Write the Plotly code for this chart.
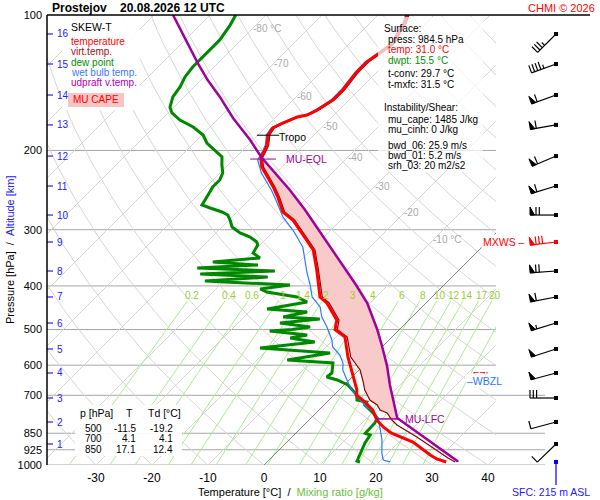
import numpy as np
import plotly.graph_objects as go

# ---------------------------------------------------------------- data
station = "Prostejov"
valid_time = "20.08.2026 12 UTC"

temp_p = [100.0, 104.2, 108.0, 115.4, 121.5, 127.2, 133.9, 146.8, 154.5, 162.6, 166.8, 168.5,
          173.8, 178.3, 184.8, 194.5, 199.5, 207.9, 217.7, 230.3, 241.1, 253.8, 274.0, 285.5,
          308.2, 332.8, 368.7, 423.3, 436.5, 476.2, 500.0, 519.4, 575.4, 624.5, 681.3, 700.0,
          724.4, 754.7, 794.3, 823.3, 850.0, 889.0, 950.1, 969.7, 984.5]
temp_t = [-54.8, -53.8, -53.4, -52.3, -52.9, -53.6, -53.6, -52.9, -52.9, -53.9, -54.8, -56.2,
          -57.7, -58.6, -58.2, -56.6, -56.1, -55.4, -53.6, -50.5, -48.0, -45.4, -41.8, -38.6,
          -34.1, -29.6, -25.4, -20.0, -17.7, -12.9, -11.5, -8.4, -4.3, -0.7, 3.2, 4.1,
          6.8, 9.6, 12.1, 14.5, 17.1, 22.5, 27.9, 29.8, 32.0]

virt_p = [100.0, 104.2, 108.0, 115.4, 121.5, 127.2, 133.9, 146.8, 154.5, 162.6, 166.8, 168.5,
          173.8, 178.3, 184.8, 194.5, 199.5, 207.9, 217.7, 230.3, 241.1, 253.8, 274.0, 285.5,
          308.2, 332.8, 368.7, 423.3, 436.5, 476.2, 500.0, 519.4, 575.4, 615.0, 654.0, 681.3,
          717.1, 735.7, 754.7, 766.4, 794.3, 814.9, 866.5, 916.7, 964.8, 984.5]
virt_t = [-54.5, -53.5, -53.1, -52.0, -52.6, -53.3, -53.3, -52.6, -52.6, -53.6, -54.5, -55.9,
          -57.4, -58.3, -57.9, -56.3, -55.8, -55.1, -53.3, -50.2, -47.7, -45.1, -41.5, -38.3,
          -33.8, -29.3, -25.1, -19.6, -17.3, -12.5, -11.1, -8.0, -3.8, 0.2, 2.9, 4.6,
          7.3, 9.5, 10.9, 12.7, 14.8, 16.6, 22.3, 27.1, 31.6, 33.6]

dew_p = [100.0, 105.3, 113.6, 117.8, 124.0, 130.5, 137.3, 144.5, 152.1, 160.2, 165.1, 171.2,
         177.4, 184.8, 192.5, 201.6, 206.8, 215.4, 224.5, 232.6, 241.1, 251.2, 264.4, 268.5,
         274.0, 278.3, 285.5, 295.9, 305.1, 311.4, 319.5, 324.5, 338.0, 346.7, 353.9, 359.4,
         365.0, 370.6, 376.3, 382.2, 390.1, 398.1, 406.3, 412.6, 423.3, 434.3, 450.1, 457.1,
         468.9, 473.8, 483.6, 493.6, 500.0, 503.8, 514.2, 522.1, 532.9, 549.5, 563.8, 584.3,
         593.4, 624.5, 637.5, 647.3, 664.1, 691.8, 700.0, 717.1, 724.4, 735.7, 766.4, 786.2,
         806.6, 850.0, 857.7, 893.5, 926.1, 959.9, 979.7, 984.5]
dew_t = [-85.4, -84.6, -83.8, -83.8, -83.8, -83.8, -83.4, -82.5, -82.0, -80.7, -79.3, -76.6,
         -73.0, -69.8, -67.7, -64.3, -62.5, -61.1, -59.5, -58.8, -58.8, -58.2, -57.5, -55.5,
         -52.7, -51.1, -49.8, -48.2, -45.7, -43.2, -41.1, -40.4, -39.8, -37.7, -45.4, -36.8,
         -47.1, -32.7, -45.5, -32.9, -43.4, -27.5, -32.1, -30.4, -24.1, -21.4, -27.3, -19.6,
         -23.0, -16.1, -22.5, -16.4, -19.2, -22.9, -15.5, -18.0, -12.9, -21.6, -8.2, -14.6,
         -5.9, -4.3, -4.5, -2.1, 0.7, 3.4, 4.1, 5.0, 7.1, 7.3, 10.2, 11.8,
         12.3, 12.4, 13.6, 14.1, 14.8, 15.4, 15.9, 16.6]

wet_p = [100.0, 104.2, 108.0, 115.4, 121.5, 127.2, 133.9, 146.8, 154.5, 162.6, 166.8, 168.5,
         173.8, 178.3, 184.8, 194.5, 199.5, 210.0, 224.5, 232.6, 244.8, 257.7, 271.2, 281.1,
         300.5, 327.8, 350.3, 374.4, 398.1, 423.3, 445.5, 468.9, 493.6, 527.5, 546.7, 569.6,
         593.4, 615.0, 657.3, 681.3, 706.2, 743.3, 766.4, 786.2, 827.5, 879.9, 940.5, 974.7, 984.5]
wet_t = [-55.1, -54.1, -53.7, -52.6, -53.2, -53.9, -53.9, -53.2, -53.2, -54.2, -55.1, -56.5,
         -58.0, -58.9, -58.5, -56.9, -56.4, -55.6, -52.6, -50.6, -47.8, -45.2, -42.7, -40.9,
         -36.8, -32.0, -29.3, -26.6, -23.9, -21.4, -18.2, -16.1, -13.4, -10.2, -8.8, -6.1,
         -4.1, -2.9, 0.4, 2.3, 4.5, 8.0, 10.5, 12.0, 14.1, 16.6, 18.9, 20.4, 22.0]

parcel_p = [100.0, 115.4, 127.9, 139.5, 152.1, 169.4, 189.6, 206.8, 221.0, 244.8, 271.2, 298.9,
            345.0, 398.1, 436.5, 498.6, 541.2, 602.6, 664.1, 735.7, 786.2, 979.7, 984.5]
parcel_t = [-96.6, -89.1, -83.6, -78.8, -73.6, -67.5, -60.5, -55.5, -51.1, -44.5, -38.2, -32.5,
            -24.1, -15.7, -10.5, -4.1, -0.4, 4.3, 8.2, 12.5, 15.4, 33.8, 34.0]

# wind at altitude levels (km ASL), knots
km_levels = [1, 2, 3, 4, 5, 6, 7, 8, 9, 10, 11, 12, 13, 14, 15, 16]
km_p = [898.1, 802.5, 709.8, 624.5, 552.4, 483.6, 423.3, 370.6, 319.5, 278.3, 239.9, 205.8,
        175.5, 150.6, 128.5, 110.2]
wind_dir = [226, 255, 270, 255, 252, 253, 259, 266, 263, 270, 253, 247, 260, 250, 250, 225]
wind_kt = [10, 10, 30, 50, 50, 55, 60, 70, 80, 70, 60, 60, 60, 60, 45, 35]

sfc_p = 984.5
sfc_elev_m = 215
tropo_p = 185.0
eql_p = 209.0
lfc_p = 790.0

table_p = [500, 700, 850]
table_t = [-11.5, 4.1, 17.1]
table_td = [-19.2, 4.1, 12.4]

surface_lines = [("press: 984.5 hPa", "black"), ("temp: 31.0 °C", "#ff0000"),
                 ("dwpt: 15.5 °C", "#009000")]
conv_lines = ["t-conv: 29.7 °C", "t-mxfc: 31.5 °C"]
instab_lines = ["mu_cape: 1485 J/kg", "mu_cinh: 0 J/kg"]
shear_lines = ["bwd_06: 25.9 m/s", "bwd_01: 5.2 m/s", "srh_03: 20 m2/s2"]

mix_ratios = [0.2, 0.4, 0.6, 1, 1.4, 2, 3, 4, 6, 8, 10, 12, 14, 17, 20, 25]
isobars = [200, 300, 400, 500, 600, 700, 850, 925, 1000]
pressure_ticks = [100, 200, 300, 400, 500, 600, 700, 850, 925, 1000]
temp_ticks = [-30, -20, -10, 0, 10, 20, 30, 40]
iso_label_t = [-80, -70, -60, -50, -40, -30, -20, -10]
iso_label_p = [106.9, 127.9, 151.4, 176.5, 206.8, 239.9, 275.4, 316.2]

# ---------------------------------------------------------------- geometry
W, H = 600, 500
X_LEFT, X_RIGHT = 47, 496
Y_TOP, Y_BOT = 15, 465
PX_PER_C = 5.6
X_ZERO = 264
PX_PER_DEC = Y_BOT - Y_TOP
SKEW = PX_PER_DEC / PX_PER_C


def sk(T, p):
    return np.asarray(T, dtype=float) + SKEW * (3 - np.log10(np.asarray(p, dtype=float)))


def fx(px):
    return px / W


def fy(py):
    return 1 - py / H


def prof_at(P, T, p):
    P = np.asarray(P, float)
    T = np.asarray(T, float)
    o = np.argsort(P)
    return float(np.interp(np.log10(p), np.log10(P[o]), T[o]))


def cross_zero(P, T):
    P = np.asarray(P, float)
    T = np.asarray(T, float)
    for i in range(len(P) - 1, 0, -1):
        if T[i] >= 0 > T[i - 1]:
            f = T[i] / (T[i] - T[i - 1])
            return 10 ** (np.log10(P[i]) + f * (np.log10(P[i - 1]) - np.log10(P[i])))
    return None


FONT = "Liberation Sans, Arial, sans-serif"
fig = go.Figure()


def add_line(xs, ys, color, width, xaxis="x", **kw):
    fig.add_trace(go.Scatter(x=xs, y=ys, mode="lines", xaxis=xaxis, yaxis="y",
                             line=dict(color=color, width=width),
                             hoverinfo="skip", showlegend=False, **kw))


# isotherms
xs, ys = [], []
for T in range(-120, 50, 10):
    if T == 0:
        continue
    xs += [float(sk(T, 1000)), float(sk(T, 100)), None]
    ys += [3.0, 2.0, None]
add_line(xs, ys, "#d6d6d6", 1)

# dry adiabats
pp = np.logspace(3, 2, 60)
xs, ys = [], []
for th in range(-40, 210, 10):
    T = (th + 273.15) * (pp / 1000) ** 0.2857 - 273.15
    xs += list(sk(T, pp)) + [None]
    ys += list(np.log10(pp)) + [None]
add_line(xs, ys, "#d6d6d6", 1)

# mixing ratio lines
pm = np.logspace(3, np.log10(432), 25)
xs, ys = [], []
for w in mix_ratios:
    e = w * pm / (622 + w)
    a = np.log(e / 6.112)
    T = 243.5 * a / (17.67 - a)
    xs += list(sk(T, pm)) + [None]
    ys += list(np.log10(pm)) + [None]
add_line(xs, ys, "#a9ee8a", 1)

# 0 degC isotherm
add_line([float(sk(0, 1000)), float(sk(0, 100))], [3.0, 2.0], "#666666", 0.8)

# CAPE area
par_p = np.array(parcel_p)
par_t = np.array(parcel_t)
m = (par_p > eql_p) & (par_p < lfc_p)
cp = [eql_p] + list(par_p[m]) + [lfc_p]
ct = [prof_at(parcel_p, parcel_t, eql_p)] + list(par_t[m]) + [prof_at(parcel_p, parcel_t, lfc_p)]
vp = np.array(virt_p)
vt = np.array(virt_t)
m2 = (vp > eql_p) & (vp < lfc_p)
ep = [lfc_p] + list(vp[m2][::-1]) + [eql_p]
et = [prof_at(virt_p, virt_t, lfc_p)] + list(vt[m2][::-1]) + [prof_at(virt_p, virt_t, eql_p)]
poly_p = np.array(cp + ep)
poly_t = np.array(ct + et)
fig.add_trace(go.Scatter(x=sk(poly_t, poly_p), y=np.log10(poly_p), mode="lines", fill="toself",
                         fillcolor="#f8caca", line=dict(width=0, color="#f8caca"),
                         hoverinfo="skip", showlegend=False))

# profiles
add_line(sk(dew_t, dew_p), np.log10(dew_p), "#008800", 3)
add_line(sk(wet_t, wet_p), np.log10(wet_p), "#2a78ff", 1.2)
add_line(sk(virt_t, virt_p), np.log10(virt_p), "#8b0000", 1.2)
add_line(sk(temp_t, temp_p), np.log10(temp_p), "#ff0000", 3)
add_line(sk(parcel_t, parcel_p), np.log10(parcel_p), "#a000a0", 2.5)

# level markers
t_tropo = prof_at(temp_p, temp_t, tropo_p)
add_line([float(sk(t_tropo - 2, tropo_p)), float(sk(t_tropo + 2, tropo_p))],
         [np.log10(tropo_p)] * 2, "black", 1)
t_eql = prof_at(parcel_p, parcel_t, eql_p)
add_line([float(sk(t_eql - 2.3, eql_p)), float(sk(t_eql + 2.3, eql_p))],
         [np.log10(eql_p)] * 2, "#a000a0", 1)
t_lfc_env = prof_at(temp_p, temp_t, lfc_p)
t_lfc_par = prof_at(parcel_p, parcel_t, lfc_p)
add_line([float(sk(t_lfc_env, lfc_p)), float(sk(t_lfc_par, lfc_p))],
         [np.log10(lfc_p)] * 2, "#a000a0", 1.5)

# wind barbs (axis x2 in pixel units, shared pressure axis)
BX = 556.0


def barb(p, d, s, L=26.0, flen=8.0, gap=3.3, pw=4.5):
    y0 = np.log10(p)
    r = np.radians(d)
    sx, sy = np.sin(r), -np.cos(r)
    fx_, fy_ = -sy, sx

    def P(a, b):
        return (BX + a * sx + b * fx_, y0 + (a * sy + b * fy_) / PX_PER_DEC)

    lines = [P(0, 0), P(L, 0), None]
    polys = []
    s5 = int(round(s / 5.0)) * 5
    n50, rem = divmod(s5, 50)
    n10, rem = divmod(rem, 10)
    pos = L
    for _ in range(n50):
        polys += [P(pos, 0), P(pos, flen), P(pos - pw, 0), P(pos, 0), None]
        pos -= pw + 1.5
    for _ in range(n10):
        lines += [P(pos, 0), P(pos, flen), None]
        pos -= gap
    if rem >= 5:
        if pos == L:
            pos -= gap
        lines += [P(pos, 0), P(pos, flen / 2), None]
    return lines, polys


imax = int(np.argmax(wind_kt))
for i, (p, d, s) in enumerate(zip(km_p, wind_dir, wind_kt)):
    col = "#ff0000" if i == imax else "black"
    lines, polys = barb(p, d, s)
    add_line([q[0] if q else None for q in lines], [q[1] if q else None for q in lines],
             col, 1.2, xaxis="x2")
    if polys:
        fig.add_trace(go.Scatter(x=[q[0] if q else None for q in polys],
                                 y=[q[1] if q else None for q in polys],
                                 mode="lines", fill="toself", fillcolor=col, xaxis="x2", yaxis="y",
                                 line=dict(color=col, width=1), hoverinfo="skip", showlegend=False))
    fig.add_trace(go.Scatter(x=[BX], y=[np.log10(p)], mode="markers", xaxis="x2", yaxis="y",
                             marker=dict(symbol="square", size=4, color=col),
                             hoverinfo="skip", showlegend=False))
fig.add_trace(go.Scatter(x=[BX], y=[np.log10(sfc_p)], mode="markers", xaxis="x2", yaxis="y",
                         marker=dict(symbol="square", size=4, color="#0000ff"),
                         hoverinfo="skip", showlegend=False))

# ---------------------------------------------------------------- shapes
shapes = []
for p in isobars:
    shapes.append(dict(type="line", xref="paper", yref="y", x0=fx(X_LEFT),
                       x1=fx(545 if p >= 700 else X_RIGHT), y0=np.log10(p), y1=np.log10(p),
                       line=dict(color="#a6a6a6", width=1), layer="below"))
for p in km_p:
    shapes.append(dict(type="line", xref="paper", yref="y", x0=fx(47), x1=fx(53),
                       y0=np.log10(p), y1=np.log10(p), line=dict(color="#2020ff", width=1.2),
                       layer="above"))
# boxes
shapes.append(dict(type="rect", xref="paper", yref="paper", x0=fx(62), x1=fx(140), y0=fy(110),
                   y1=fy(16), fillcolor="rgba(255,255,255,0.92)", line=dict(width=0), layer="above"))
shapes.append(dict(type="rect", xref="paper", yref="paper", x0=fx(68), x1=fx(124), y0=fy(107),
                   y1=fy(93), fillcolor="#f9c4c4", line=dict(width=0), layer="above"))
shapes.append(dict(type="rect", xref="paper", yref="paper", x0=fx(378), x1=fx(483), y0=fy(172),
                   y1=fy(17), fillcolor="rgba(255,255,255,0.72)", line=dict(width=0), layer="above"))
shapes.append(dict(type="rect", xref="paper", yref="paper", x0=fx(75), x1=fx(182), y0=fy(456),
                   y1=fy(405), fillcolor="rgba(255,255,255,0.92)", line=dict(width=0), layer="above"))
# frame
shapes.append(dict(type="line", xref="paper", yref="paper", x0=fx(X_LEFT), x1=fx(X_LEFT),
                   y0=fy(Y_BOT), y1=fy(Y_TOP), line=dict(color="black", width=1.5), layer="above"))
shapes.append(dict(type="line", xref="paper", yref="paper", x0=fx(X_LEFT), x1=fx(590),
                   y0=fy(Y_TOP), y1=fy(Y_TOP), line=dict(color="black", width=1.5), layer="above"))
# surface elevation marker
shapes.append(dict(type="line", xref="x2", yref="paper", x0=BX, x1=BX, y0=fy(485), y1=fy(461),
                   line=dict(color="#0000ff", width=1.2), layer="above"))

# ---------------------------------------------------------------- annotations
ann = []


def txt(s, x, y, size=10, color="black", xanchor="left", xref="paper", yref="paper", **kw):
    ann.append(dict(text=s, x=x, y=y, xref=xref, yref=yref, xanchor=xanchor, yanchor="middle",
                    showarrow=False, font=dict(size=size, color=color, family=FONT), **kw))


NB = "\u00a0"
txt(f"<b>{station}{NB*4}{valid_time}</b>", fx(50), fy(8), size=12)
txt("CHMI © 2026", fx(597), fy(8), size=11, color="#ff0000", xanchor="right")

# legend
txt("SKEW-T", fx(69), fy(27), size=10.5)
for i, (s, c) in enumerate([("temperature", "#ff0000"), ("virt.temp.", "#a01010"),
                            ("dew point", "#009000"), ("wet bulb temp.", "#3a78ff"),
                            ("udpraft v.temp.", "#b000b0")]):
    txt(s, fx(69), fy(42 + 10 * i), size=10, color=c)
txt("MU CAPE", fx(96), fy(100), size=10, color="#ff0000", xanchor="center")

# info box
txt("Surface:", fx(382), fy(28))
for i, (s, c) in enumerate(surface_lines):
    txt(s, fx(386), fy(40 + 10 * i), color=c)
for i, s in enumerate(conv_lines):
    txt(s, fx(386), fy(73 + 11 * i))
txt("Instability/Shear:", fx(382), fy(108))
for i, s in enumerate(instab_lines):
    txt(s, fx(386), fy(119 + 10 * i))
for i, s in enumerate(shear_lines):
    txt(s, fx(386), fy(145 + 10 * i))

# table
txt("p [hPa]", fx(78), fy(413), size=10.5)
txt("T", fx(129), fy(413), size=10.5, xanchor="center")
txt("Td [°C]", fx(146), fy(413), size=10.5)
for i, (p, t, td) in enumerate(zip(table_p, table_t, table_td)):
    yy = fy(428 + 10.5 * i)
    txt(str(p), fx(103), yy, size=10, xanchor="right", borderpad=0)
    txt(f"{t:.1f}", fx(137), yy, size=10, xanchor="right", borderpad=0)
    txt(f"{td:.1f}", fx(174), yy, size=10, xanchor="right", borderpad=0)

# km labels
for k, p in zip(km_levels, km_p):
    txt(str(k), fx(55), np.log10(p), size=10, color="#2020ff", yref="y")

# isotherm labels
for t, p in zip(iso_label_t, iso_label_p):
    lab = f"{t} °C" if t in (-80, -10) else f"{t}"
    txt(lab, float(sk(t, p)), np.log10(p), size=10, color="#a8a8a8", xref="x", yref="y",
        xshift=-2)

# mixing ratio labels
p_lab = 419.0
for w in mix_ratios:
    e = w * p_lab / (622 + w)
    a = np.log(e / 6.112)
    T = 243.5 * a / (17.67 - a)
    txt(f"{w:g}", float(sk(T, p_lab)), np.log10(p_lab), size=10, color="#9acd32",
        xanchor="center", xref="x", yref="y")

# level labels
txt("Tropo", float(sk(t_tropo + 2, tropo_p)), np.log10(tropo_p) + 2 / PX_PER_DEC, size=10.5,
    xref="x", yref="y", xshift=-2)
txt("MU-EQL", float(sk(t_eql + 2.3, eql_p)), np.log10(eql_p), size=10.5, color="#a000a0",
    xref="x", yref="y", xshift=8)
txt("MU-LFC", float(sk(t_lfc_par, lfc_p)), np.log10(lfc_p), size=10.5, color="#a000a0",
    xref="x", yref="y", xshift=4)

fzl_p = cross_zero(temp_p, temp_t)
wbzl_p = cross_zero(wet_p, wet_t)
txt("\u2013FZL", fx(465), np.log10(fzl_p), size=10.5, color="#ff0000", yref="y")
txt("\u2013WBZL", fx(465), np.log10(wbzl_p), size=10.5, color="#2a78ff", yref="y",
    bgcolor="white")
txt("MXWS \u2013", fx(481), np.log10(km_p[imax]), size=10.5, color="#ff0000", yref="y",
    bgcolor="rgba(255,255,255,0.85)")

txt(f"SFC: {sfc_elev_m} m ASL", fx(551), fy(492), size=10.5, color="#2020ff", xanchor="center")

# axis titles
txt(f"Temperature [°C]{NB*2}/{NB*2}<span style='color:#66c23a'>Mixing ratio [g/kg]</span>",
    fx(196), fy(492), size=11)
txt(f"Pressure [hPa]{NB*2}/{NB*2}<span style='color:#2020ff'>Altitude [km]</span>",
    fx(10), fy(250), size=11, xanchor="center", textangle=-90)

# ---------------------------------------------------------------- layout
fig.update_layout(
    template="none",
    width=W, height=H, margin=dict(l=0, r=0, t=0, b=0, pad=0, autoexpand=False),
    paper_bgcolor="white", plot_bgcolor="rgba(0,0,0,0)",
    font=dict(family=FONT, color="black"),
    xaxis=dict(domain=[fx(X_LEFT), fx(X_RIGHT)],
               range=[(X_LEFT - X_ZERO) / PX_PER_C, (X_RIGHT - X_ZERO) / PX_PER_C],
               tickvals=temp_ticks, ticktext=[str(t) for t in temp_ticks], automargin=False,
               showgrid=False, zeroline=False, showline=False, ticks="",
               tickfont=dict(size=12, color="black"), ticklabelstandoff=4, fixedrange=True),
    yaxis=dict(domain=[fy(Y_BOT), fy(Y_TOP)], range=[3, 2], automargin=False,
               tickvals=[float(np.log10(p)) for p in pressure_ticks],
               ticktext=[str(p) for p in pressure_ticks],
               showgrid=False, zeroline=False, showline=False, ticks="",
               tickfont=dict(size=11, color="black"), ticklabelstandoff=4, fixedrange=True),
    xaxis2=dict(domain=[fx(498), 1.0], range=[498, 600], anchor="y", visible=False,
                automargin=False, fixedrange=True),
    shapes=shapes, annotations=ann, showlegend=False,
)

fig.write_html("out.html", config={"responsive": False, "displayModeBar": False},
               post_script="document.body.style.margin='0';document.body.style.overflow='hidden';")
